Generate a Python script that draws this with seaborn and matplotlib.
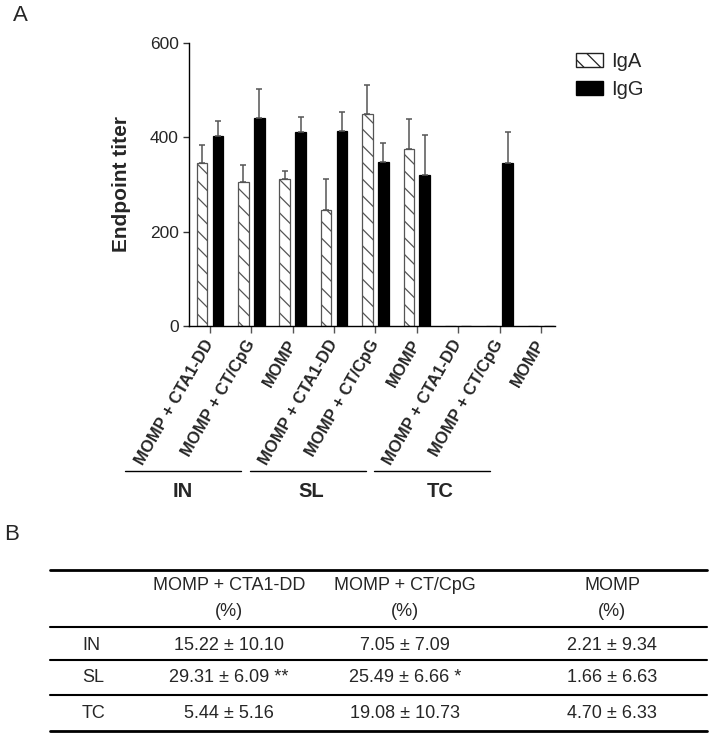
import numpy as np
import pandas as pd
import matplotlib
matplotlib.use("Agg")
import matplotlib.pyplot as plt
import seaborn as sns
from matplotlib.patches import Patch
from matplotlib.lines import Line2D

# data
routes = ["IN", "SL", "TC"]
adjuvants = ["MOMP + CTA1-DD", "MOMP + CT/CpG", "MOMP"]
iga_titer = [345, 304, 311, 245, 448, 375, 0, 0, 0]
iga_sem = [38, 38, 18, 66, 63, 64, 0, 0, 0]
igg_titer = [402, 441, 410, 413, 347, 320, 0, 345, 0]
igg_sem = [33, 60, 32, 40, 40, 84, 0, 66, 0]

# panel B table
col_headers = ["MOMP + CTA1-DD", "MOMP + CT/CpG", "MOMP"]
row_labels = ["IN", "SL", "TC"]
cells = [
    ["15.22 ± 10.10", "7.05 ± 7.09", "2.21 ± 9.34"],
    ["29.31 ± 6.09 **", "25.49 ± 6.66 *", "1.66 ± 6.63"],
    ["5.44 ± 5.16", "19.08 ± 10.73", "4.70 ± 6.33"],
]

sns.set_style("ticks")
plt.rcParams["font.family"] = ["Liberation Sans", "DejaVu Sans"]
plt.rcParams["hatch.linewidth"] = 0.9

conds = [r + "|" + a for r in routes for a in adjuvants]
df = pd.DataFrame({
    "cond": conds * 2,
    "isotype": ["IgA"] * 9 + ["IgG"] * 9,
    "titer": iga_titer + igg_titer,
})

fig = plt.figure(figsize=(7.12, 7.37), dpi=100)
ax = fig.add_axes([189.3 / 712, 1 - 326 / 737, (555 - 189.3) / 712, (326 - 42.7) / 737])

sns.barplot(data=df, x="cond", y="titer", hue="isotype", order=conds,
            hue_order=["IgA", "IgG"], palette={"IgA": "white", "IgG": "black"},
            saturation=1, width=0.77, gap=0.335, errorbar=None, legend=False, ax=ax)

# style bars and add one-sided error bars
for cont, errs, ec, hatch in zip(ax.containers, [iga_sem, igg_sem],
                                 ["#555555", "black"], ["\\\\", None]):
    for bar, e in zip(cont, errs):
        bar.set_edgecolor(ec)
        bar.set_linewidth(0.9)
        if hatch:
            bar.set_hatch(hatch)
        if e > 0:
            xc = bar.get_x() + bar.get_width() / 2
            ax.errorbar(xc, bar.get_height(), yerr=[[0], [e]], color="#555555",
                        capsize=2.2, elinewidth=1.1, capthick=1.1, fmt="none")

ax.set_xlim(-0.5, 8.34)
ax.set_ylim(0, 600)
ax.set_yticks([0, 200, 400, 600])
ax.set_xticks(range(9))
ax.set_xticklabels(adjuvants * 3, rotation=60, ha="right", va="center",
                   rotation_mode="anchor", fontweight="bold", fontsize=12)
ax.tick_params(axis="x", length=5, width=1, color="#555555", pad=6)
ax.tick_params(axis="y", length=4.5, width=1, color="#333333", labelsize=12.5, pad=3)
ax.set_xlabel("")
ax.set_ylabel("Endpoint titer", fontsize=15, fontweight="bold", labelpad=14)
sns.despine(ax=ax)
for s in ["left", "bottom"]:
    ax.spines[s].set_linewidth(1)
    ax.spines[s].set_color("black")

fig.legend(handles=[Patch(facecolor="white", edgecolor="#222222", hatch="\\\\", label="IgA"),
                    Patch(facecolor="black", edgecolor="black", label="IgG")],
           loc="upper left", bbox_to_anchor=(576 / 712, 1 - 52 / 737), frameon=False,
           fontsize=14.5, handlelength=1.32, handleheight=0.65, handletextpad=0.4,
           labelspacing=0.45, borderpad=0, borderaxespad=0)

# overlay in pixel coordinates for annotations and the table
ov = fig.add_axes([0, 0, 1, 1])
ov.set_xlim(0, 712)
ov.set_ylim(737, 0)
ov.axis("off")

ov.text(13, 15, "A", fontsize=16, va="center", ha="left")
ov.text(4, 535, "B", fontsize=16, va="center", ha="left")

# route brackets under the rotated labels
for i, r in enumerate(routes):
    x0 = 125 + i * 124.5
    ov.plot([x0, x0 + 116], [471, 471], color="black", lw=1)
    ov.text(x0 + 58 + i * 4, 491, r, fontsize=14.5, fontweight="bold", ha="center", va="center")

# table
for y, lw in [(570, 2), (627, 1.5), (660, 1.5), (695, 1.5), (731, 2)]:
    ov.add_line(Line2D([50, 707], [y, y], color="black", lw=lw))
col_x = [229, 405, 612]
for cx, h in zip(col_x, col_headers):
    ov.text(cx, 586, h, fontsize=13, ha="center", va="center")
    ov.text(cx, 612, "(%)", fontsize=13, ha="center", va="center")
row_y = [645, 678, 714]
for ry, lab, vals in zip(row_y, row_labels, cells):
    ov.text(82, ry, lab, fontsize=13, ha="left", va="center")
    for cx, v in zip(col_x, vals):
        ov.text(cx, ry, v, fontsize=13, ha="center", va="center")

fig.savefig("out.png", dpi=100)
